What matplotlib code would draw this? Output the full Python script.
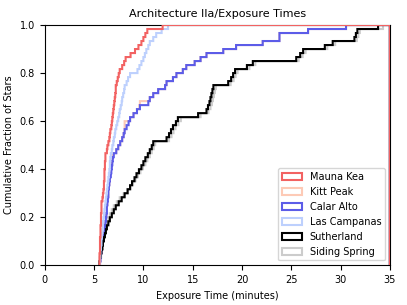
import numpy as np
import matplotlib
matplotlib.use('Agg')
import matplotlib.pyplot as plt

# exposure times (minutes)
mauna_kea = [5.55, 5.57, 5.58, 5.6, 5.61, 5.62, 5.64, 5.65, 5.67, 5.68, 5.7, 5.72, 5.73, 5.75, 5.76, 5.78,
             5.85, 5.94, 5.97, 6.0, 6.02, 6.05, 6.07, 6.09, 6.11, 6.13, 6.16, 6.18,
             6.3, 6.38, 6.45, 6.55, 6.62, 6.69, 6.75, 6.8, 6.85, 6.9,
             6.95, 7.0, 7.05, 7.1, 7.15, 7.2, 7.23, 7.33, 7.43, 7.53, 7.63,
             7.85, 8.05, 8.24, 8.7, 9.15, 9.5, 9.8, 10.0, 10.2, 10.4, 11.95]
kitt_peak = [5.6, 5.66, 5.72, 5.78, 5.84, 5.9, 5.95, 6.0, 6.06, 6.12, 6.18,
             6.22, 6.26, 6.3, 6.34, 6.38, 6.42, 6.46, 6.49, 6.52,
             6.56, 6.6, 6.64, 6.7, 6.76, 6.82, 6.88, 6.94,
             7.25, 7.45, 7.65, 7.85, 8.0, 8.1, 8.12, 8.14, 8.65,
             9.0, 9.35, 9.6, 9.65, 10.67, 11.0, 11.5, 12.2, 12.35, 13.0, 13.36,
             14.0, 14.37, 15.2, 15.8, 16.4, 18.1, 19.4, 22.1, 23.8, 23.8, 26.7, 30.56]
calar_alto = [5.6, 5.66, 5.72, 5.78, 5.84, 5.9, 5.95, 6.0, 6.06, 6.12, 6.18,
              6.22, 6.26, 6.3, 6.34, 6.38, 6.42, 6.46, 6.49, 6.52,
              6.58, 6.64, 6.7, 6.76, 6.82, 6.88, 6.94, 7.0,
              7.25, 7.45, 7.65, 7.85, 8.0, 8.14, 8.3, 8.5, 8.65,
              9.0, 9.35, 9.65, 10.5, 10.67, 11.0, 11.5, 12.2, 12.35, 13.0, 13.36,
              14.0, 14.37, 15.2, 15.8, 16.4, 18.1, 19.4, 22.1, 23.8, 23.8, 26.7, 30.56]
las_campanas = [5.6, 5.63, 5.66, 5.69, 5.72, 5.75, 5.78, 5.82, 5.86, 5.9, 5.94,
                5.99, 6.04, 6.09, 6.14, 6.19, 6.24, 6.29, 6.34, 6.38,
                6.42, 6.46, 6.5, 6.55, 6.6, 6.64, 6.68, 6.72,
                6.8, 6.88, 6.96, 7.04, 7.12, 7.19, 7.28, 7.37, 7.46, 7.55, 7.63,
                7.72, 7.8, 7.89, 7.97, 8.06, 8.14, 8.3, 8.48, 8.65, 9.42,
                9.6, 9.8, 10.0, 10.15, 10.3, 10.5, 10.67, 11.0, 11.34, 11.85, 12.5]
sutherland = [5.55, 5.62, 5.7, 5.78, 5.86, 5.94, 6.02, 6.1, 6.22, 6.34, 6.45,
              6.62, 6.8, 7.0, 7.23, 7.5, 7.8, 8.1, 8.4, 8.65,
              8.85, 9.1, 9.3, 9.55, 9.8, 10.0, 10.2, 10.45, 10.67, 10.85, 11.0,
              12.35, 12.6, 12.8, 13.0, 13.3, 13.53, 15.55, 16.4,
              16.55, 16.7, 16.8, 16.9, 17.0, 17.1, 18.6, 18.9, 19.1, 19.3,
              20.5, 21.1, 25.5, 25.9, 26.2, 28.4, 29.2, 31.4, 31.55, 31.7, 33.8]
siding_spring = [5.55, 5.6, 5.66, 5.72, 5.8, 5.88, 5.96, 6.04, 6.14, 6.24, 6.34,
                 6.48, 6.62, 6.8, 7.0, 7.3, 7.6, 8.0, 8.4, 8.7,
                 8.95, 9.2, 9.45, 9.7, 9.95, 10.2, 10.4, 10.65, 10.85, 11.05, 11.2,
                 12.6, 12.85, 13.05, 13.25, 13.55, 13.8, 15.8, 16.6,
                 16.8, 16.95, 17.05, 17.15, 17.25, 17.35, 18.85, 19.15, 19.35, 19.55,
                 20.75, 21.35, 25.75, 26.15, 26.45, 28.65, 29.45, 31.65, 31.8, 31.95, 34.3]

sites = ['Mauna Kea', 'Kitt Peak', 'Calar Alto', 'Las Campanas', 'Sutherland', 'Siding Spring']
times = [mauna_kea, kitt_peak, calar_alto, las_campanas, sutherland, siding_spring]
colors = ['#f26262', '#fdcab6', '#5c5ce8', '#bdd0fd', 'black', '#cccccc']
zorders = [3, 1, 2, 2.5, 2, 1]

fig = plt.figure(figsize=(4.07, 3.05), dpi=100)
ax = fig.add_axes([0.11, 0.13, 0.848, 0.788])
bins = np.arange(5.5, 35.001, 0.05)
for name, t, c, z in zip(sites, times, colors, zorders):
    ax.hist(t, bins=bins, histtype='step', cumulative=True, density=True,
            color=c, lw=1.5, label=name, zorder=z)

ax.set_xlim(0, 35)
ax.set_ylim(0, 1.0)
ax.set_xticks([0, 5, 10, 15, 20, 25, 30, 35])
ax.set_yticks([0, 0.2, 0.4, 0.6, 0.8, 1.0])
ax.tick_params(labelsize=7)
ax.set_xlabel('Exposure Time (minutes)', fontsize=7)
ax.set_ylabel('Cumulative Fraction of Stars', fontsize=7)
ax.set_title('Architecture IIa/Exposure Times', fontsize=8)
ax.legend(loc='lower right', fontsize=7)
fig.savefig('out.png', dpi=100)
